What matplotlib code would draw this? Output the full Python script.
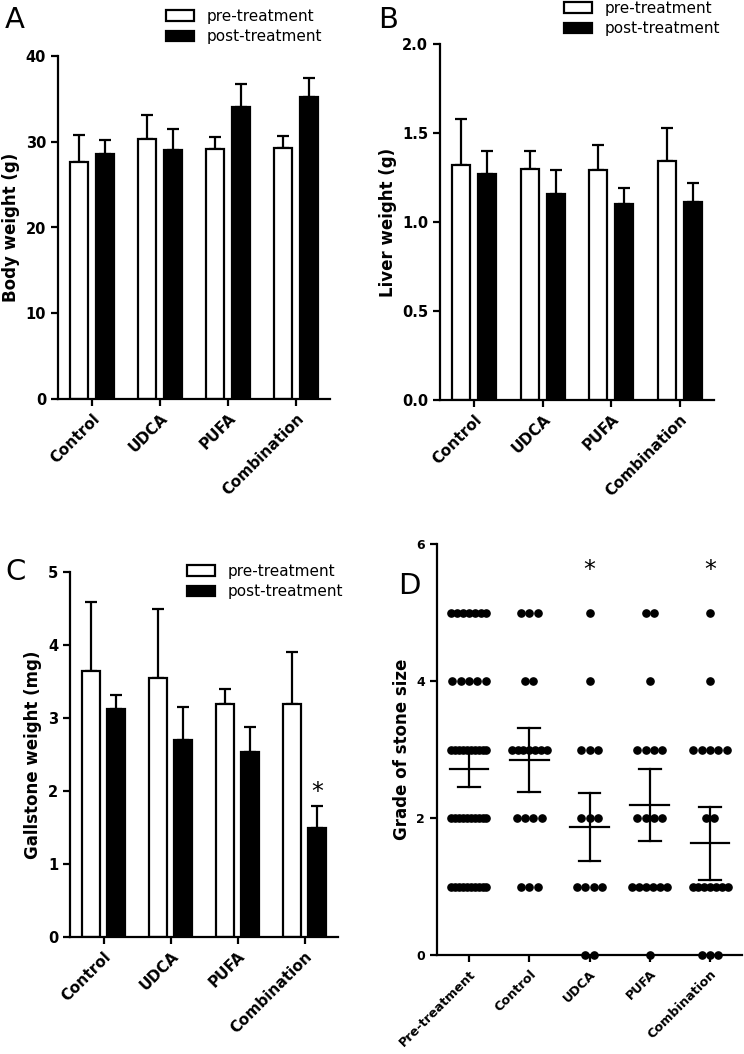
import numpy as np
import matplotlib
matplotlib.use("Agg")
import matplotlib.pyplot as plt
from matplotlib.patches import Patch

# ---------------- data ----------------
groups = ["Control", "UDCA", "PUFA", "Combination"]
series_labels = ["pre-treatment", "post-treatment"]

a_pre = [27.6, 30.3, 29.15, 29.3]
a_pre_err = [3.2, 2.8, 1.35, 1.4]
a_post = [28.6, 29.0, 34.1, 35.2]
a_post_err = [1.6, 2.5, 2.6, 2.2]

b_pre = [1.32, 1.30, 1.29, 1.34]
b_pre_err = [0.26, 0.10, 0.14, 0.19]
b_post = [1.27, 1.16, 1.10, 1.11]
b_post_err = [0.13, 0.13, 0.09, 0.11]

c_pre = [3.64, 3.55, 3.19, 3.19]
c_pre_err = [0.95, 0.94, 0.21, 0.71]
c_post = [3.12, 2.70, 2.53, 1.50]
c_post_err = [0.19, 0.45, 0.35, 0.30]

d_groups = ["Pre-treatment", "Control", "UDCA", "PUFA", "Combination"]
d_grades = [5, 4, 3, 2, 1, 0]
d_pre_counts = [7, 5, 10, 10, 10, 0]
d_control_counts = [3, 2, 7, 4, 3, 0]
d_udca_counts = [1, 1, 3, 3, 4, 2]
d_pufa_counts = [2, 1, 4, 4, 6, 1]
d_comb_counts = [1, 1, 5, 2, 7, 3]
d_mean = [2.72, 2.85, 1.87, 2.19, 1.63]
d_sem = [0.27, 0.47, 0.50, 0.53, 0.53]
d_star_groups = ["UDCA", "Combination"]

# ---------------- layout ----------------
W, H = 744, 1054
fig = plt.figure(figsize=(W / 100, H / 100), dpi=100)
plt.rcParams['font.family'] = ['DejaVu Sans']


def px_axes(l, t, r, b):
    return fig.add_axes([l / W, 1 - b / H, (r - l) / W, (b - t) / H])


LW = 1.6


def style(ax):
    for s in ["top", "right"]:
        ax.spines[s].set_visible(False)
    for s in ["left", "bottom"]:
        ax.spines[s].set_linewidth(LW)
    ax.tick_params(width=LW, length=5, direction="out")


def bar_panel(ax, pre, pre_err, post, post_err, ylim, yticks, fmt, ylabel):
    x = np.arange(len(groups))
    off = 0.1875
    w = 0.265
    ax.bar(x - off, pre, w, color="white", edgecolor="black", linewidth=LW, zorder=2)
    ax.bar(x + off, post, w, color="black", edgecolor="black", linewidth=LW, zorder=2)
    ax.errorbar(x - off, pre, yerr=[np.zeros(len(pre)), pre_err], fmt="none",
                ecolor="black", elinewidth=LW, capsize=4, capthick=LW, zorder=1)
    ax.errorbar(x + off, post, yerr=[np.zeros(len(post)), post_err], fmt="none",
                ecolor="black", elinewidth=LW, capsize=4, capthick=LW, zorder=1)
    ax.set_xlim(-0.5, len(groups) - 0.5)
    ax.set_ylim(*ylim)
    ax.set_yticks(yticks)
    ax.set_yticklabels([fmt.format(v) for v in yticks], fontsize=10.5, fontweight="bold")
    ax.set_xticks(x)
    ax.set_xticklabels(groups, rotation=45, ha="right", rotation_mode="anchor",
                       fontsize=11, fontweight="bold")
    ax.set_ylabel(ylabel, fontsize=12, fontweight="bold")
    style(ax)
    ax.spines["left"].set_bounds(ylim[0], ylim[1])


def add_legend(ax, x_px, y_px):
    handles = [Patch(facecolor="white", edgecolor="black", linewidth=LW),
               Patch(facecolor="black", edgecolor="black", linewidth=LW)]
    ax.legend(handles, series_labels, loc="upper left",
              bbox_to_anchor=(x_px / W, 1 - y_px / H), bbox_transform=fig.transFigure,
              frameon=False, fontsize=11, handlelength=1.85, handleheight=0.7,
              handletextpad=0.8, labelspacing=0.35, borderpad=0, borderaxespad=0)


# Panel A
axA = px_axes(58, 56, 330, 399)
bar_panel(axA, a_pre, a_pre_err, a_post, a_post_err, (0, 40), [0, 10, 20, 30, 40],
          "{:.0f}", "Body weight (g)")
add_legend(axA, 166, 9)
fig.text(5 / W, 1 - 6 / H, "A", fontsize=21, va="top", ha="left")

# Panel B
axB = px_axes(440, 44, 714, 400)
bar_panel(axB, b_pre, b_pre_err, b_post, b_post_err, (0, 2.0), [0, 0.5, 1.0, 1.5, 2.0],
          "{:.1f}", "Liver weight (g)")
add_legend(axB, 564, 1)
fig.text(378 / W, 1 - 6 / H, "B", fontsize=21, va="top", ha="left")

# Panel C
axC = px_axes(70, 572, 338, 937)
bar_panel(axC, c_pre, c_pre_err, c_post, c_post_err, (0, 5), [0, 1, 2, 3, 4, 5],
          "{:.0f}", "Gallstone weight (mg)")
add_legend(axC, 187, 564)
fig.text(5 / W, 1 - 558 / H, "C", fontsize=21, va="top", ha="left")
ci = groups.index("Combination")
axC.text(ci + 0.1875, c_post[ci] + c_post_err[ci] + 0.02, "*", ha="center", va="bottom",
         fontsize=17)

# Panel D
axD = px_axes(437, 544, 742, 955)
counts = [d_pre_counts, d_control_counts, d_udca_counts, d_pufa_counts, d_comb_counts]
for gi, cnts in enumerate(counts):
    for grade, n in zip(d_grades, cnts):
        if n == 0:
            continue
        step = 0.138 if n == 1 else min(0.138, 0.58 / (n - 1))
        xs = gi + (np.arange(n) - (n - 1) / 2) * step
        axD.plot(xs, np.full(n, grade), "o", color="black", markersize=5.2,
                 clip_on=False, zorder=2)
    m, s = d_mean[gi], d_sem[gi]
    axD.plot([gi - 0.32, gi + 0.32], [m, m], color="black", lw=LW, zorder=3)
    axD.plot([gi, gi], [m - s, m + s], color="black", lw=LW, zorder=3)
    axD.plot([gi - 0.18, gi + 0.18], [m + s, m + s], color="black", lw=LW, zorder=3)
    axD.plot([gi - 0.18, gi + 0.18], [m - s, m - s], color="black", lw=LW, zorder=3)
for g in d_star_groups:
    gi = d_groups.index(g)
    axD.text(gi, 5.45, "*", ha="center", va="bottom", fontsize=17)
axD.set_xlim(-0.53, len(d_groups) - 0.47)
axD.set_ylim(0, 6)
axD.set_yticks([0, 2, 4, 6])
axD.set_yticklabels(["0", "2", "4", "6"], fontsize=9, fontweight="bold")
axD.set_xticks(np.arange(len(d_groups)))
axD.set_xticklabels(d_groups, rotation=45, ha="right", rotation_mode="anchor",
                    fontsize=9.2, fontweight="bold")
axD.set_ylabel("Grade of stone size", fontsize=12, fontweight="bold")
style(axD)
axD.tick_params(axis="x", pad=4)
fig.text(398 / W, 1 - 572 / H, "D", fontsize=21, va="top", ha="left")

fig.savefig("out.png", dpi=100)
